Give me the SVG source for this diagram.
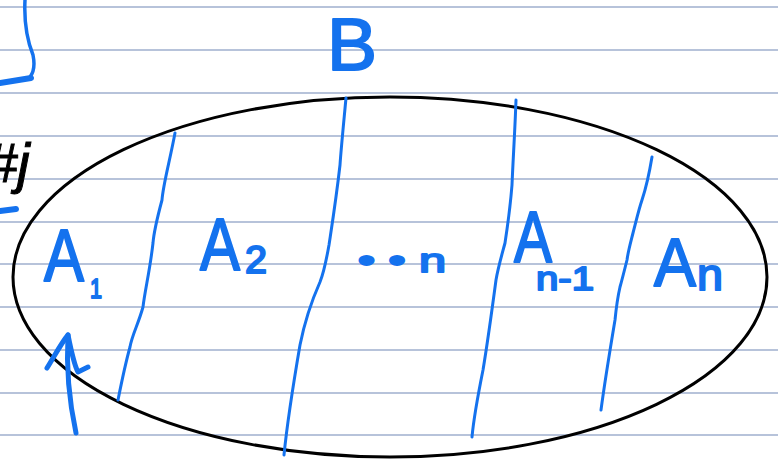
<svg xmlns="http://www.w3.org/2000/svg" width="778" height="462" viewBox="0 0 778 462">
<style>
.rule{stroke:#b7c3da;stroke-width:2}
.ink{fill:none;stroke:#1472ee;stroke-width:3;stroke-linecap:round;stroke-linejoin:round}
.lbl{font-family:"Liberation Sans",Arial,sans-serif;fill:#1472ee;stroke:#1472ee;stroke-width:2;stroke-linejoin:round}
</style>
<rect width="778" height="462" fill="#ffffff"/>
<g id="paper">
<line class="rule" x1="0" y1="7" x2="778" y2="7"/>
<line class="rule" x1="0" y1="50" x2="778" y2="50"/>
<line class="rule" x1="0" y1="93" x2="778" y2="93"/>
<line class="rule" x1="0" y1="136" x2="778" y2="136"/>
<line class="rule" x1="0" y1="179" x2="778" y2="179"/>
<line class="rule" x1="0" y1="222" x2="778" y2="222"/>
<line class="rule" x1="0" y1="264" x2="778" y2="264"/>
<line class="rule" x1="0" y1="307" x2="778" y2="307"/>
<line class="rule" x1="0" y1="350" x2="778" y2="350"/>
<line class="rule" x1="0" y1="393" x2="778" y2="393"/>
<line class="rule" x1="0" y1="435" x2="778" y2="435"/>
</g>
<g id="topleft">
<path class="ink" style="stroke-width:3.5" d="M25 0 C24 20 27 40 33 55 C35 65 34 72 30 77"/>
<path class="ink" style="stroke-width:6" d="M31 78 L0 83"/>
<path class="ink" style="stroke-width:6" d="M0 211 L16 209"/>
<text x="-14" y="182" font-family="Liberation Sans,Arial,sans-serif" font-size="56" font-style="italic" fill="#000" stroke="#000" stroke-width="1">#j</text>
</g>
<g id="setB">
<ellipse cx="390" cy="277" rx="377" ry="180" fill="none" stroke="#000" stroke-width="3"/>
</g>
<g id="dividers">
<path class="ink" d="M175 133 C170 160 163 185 162 200 C158 215 154 230 153 243 C150 270 145 290 143 307 C138 325 132 335 130 347 C125 365 121 385 118 400"/>
<path class="ink" d="M346 98 C343 130 341 150 340 165 C336 200 332 225 329 245 C326 262 324 272 320 282 C312 300 305 320 300 345 C294 380 288 415 284 455"/>
<path class="ink" d="M516 100 C515 130 513 160 512 185 C510 210 507 230 505 243 C501 258 498 268 496 280 C492 310 488 340 483 370 C478 395 474 415 472 437"/>
<path class="ink" d="M652 157 C649 175 646 188 642 200 C638 212 636 222 633 233 C630 245 628 252 627 260 C624 272 622 280 620 287 C617 300 616 310 615 320 C610 350 605 380 601 410"/>
</g>
<g id="arrow">
<path class="ink" style="stroke-width:5" d="M76 433 C70 405 66 370 68 335"/>
<path class="ink" style="stroke-width:5" d="M47 368 C55 355 62 342 68 335 C71 350 74 365 78 372 L88 367"/>
</g>
<g id="labels">
<text class="lbl" x="327" y="70" font-size="74" textLength="50" lengthAdjust="spacingAndGlyphs">B</text>
<text class="lbl" x="44" y="281" font-size="74" textLength="40" lengthAdjust="spacingAndGlyphs">A</text>
<text class="lbl" x="90" y="298" font-size="28" textLength="12" lengthAdjust="spacingAndGlyphs">1</text>
<text class="lbl" x="200" y="270" font-size="74" textLength="40" lengthAdjust="spacingAndGlyphs">A</text>
<text class="lbl" x="245" y="273" font-size="38" textLength="22" lengthAdjust="spacingAndGlyphs">2</text>
<text class="lbl" x="358" y="272" font-size="34" textLength="88" lengthAdjust="spacingAndGlyphs">• • n</text>
<text class="lbl" x="514" y="262" font-size="72" textLength="38" lengthAdjust="spacingAndGlyphs">A</text>
<text class="lbl" x="536" y="290" font-size="34" textLength="58" lengthAdjust="spacingAndGlyphs">n-1</text>
<text class="lbl" x="654" y="286" font-size="68" textLength="42" lengthAdjust="spacingAndGlyphs">A</text>
<text class="lbl" x="697" y="290" font-size="44" textLength="26" lengthAdjust="spacingAndGlyphs">n</text>
</g>
</svg>
